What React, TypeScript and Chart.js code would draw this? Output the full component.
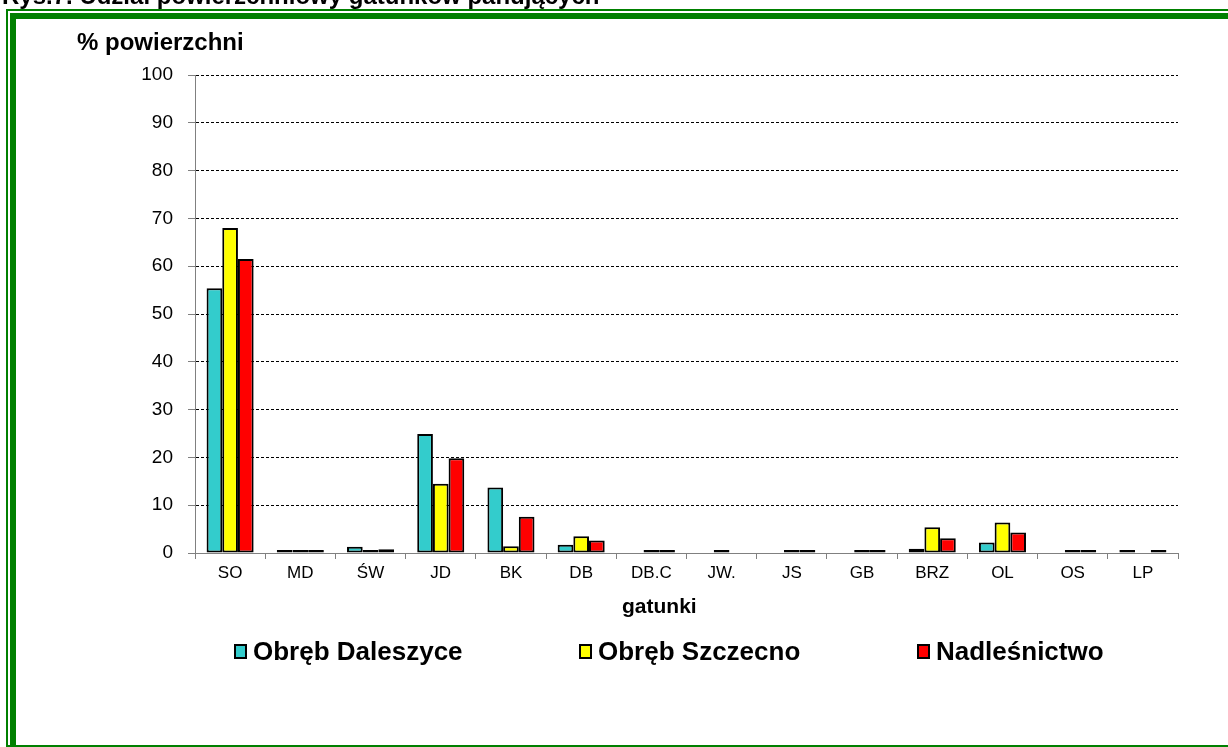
import React, { useEffect, useRef } from 'react';
import { Chart, registerables } from 'chart.js';

Chart.register(...registerables);

const FIG_TITLE = 'Rys.7. Udział powierzchniowy gatunków panujących';
const Y_TITLE = '% powierzchni';
const X_TITLE = 'gatunki';

const categories = ['SO', 'MD', 'ŚW', 'JD', 'BK', 'DB', 'DB.C', 'JW.', 'JS', 'GB', 'BRZ', 'OL', 'OS', 'LP'];

const seriesNames = ['Obręb Daleszyce', 'Obręb Szczecno', 'Nadleśnictwo'];
const seriesColors = ['#33CCCC', '#FFFF00', '#FF0000'];

const daleszyce = [55.4, 0.2, 1.3, 24.9, 13.7, 1.7, null, null, null, null, 0.9, 2.2, null, 0.2];
const szczecno = [68.0, 0.2, 0.3, 14.5, 1.4, 3.5, 0.2, 0.2, 0.2, 0.4, 5.4, 6.4, 0.2, null];
const nadlesnictwo = [61.5, 0.2, 0.8, 19.8, 7.6, 2.6, 0.2, null, 0.2, 0.2, 3.1, 4.3, 0.2, 0.2];

const yTicks = [0, 10, 20, 30, 40, 50, 60, 70, 80, 90, 100];

const FONT = '"Liberation Sans", Arial, Helvetica, sans-serif';
const LEGEND_BOX_X = [234, 579, 917];

const textPlugin = {
  id: 'figureTexts',
  afterDraw(chart: any) {
    const ctx = chart.ctx as CanvasRenderingContext2D;
    ctx.save();
    ctx.fillStyle = '#000';
    ctx.textBaseline = 'alphabetic';
    ctx.textAlign = 'left';
    ctx.font = `bold 24px ${FONT}`;
    ctx.fillText(FIG_TITLE, 2, 4);
    ctx.fillText(Y_TITLE, 77, 50);
    ctx.font = `bold 21px ${FONT}`;
    ctx.fillText(X_TITLE, 622, 613);
    ctx.font = `bold 26px ${FONT}`;
    chart.data.datasets.forEach((ds: any, i: number) => {
      const bx = LEGEND_BOX_X[i];
      ctx.fillStyle = '#000';
      ctx.fillRect(bx, 644, 13, 15);
      ctx.fillStyle = ds.backgroundColor;
      ctx.fillRect(bx + 2, 646, 9, 11);
      ctx.fillStyle = '#000';
      ctx.fillText(ds.label, bx + 19, 660);
    });
    ctx.restore();
  },
};

export default function App() {
  const ref = useRef<HTMLCanvasElement>(null);

  useEffect(() => {
    const values = [daleszyce, szczecno, nadlesnictwo];
    const chart = new Chart(ref.current as HTMLCanvasElement, {
      type: 'bar',
      data: {
        labels: categories,
        datasets: values.map((v, i) => ({
          label: seriesNames[i],
          data: v,
          backgroundColor: seriesColors[i],
          borderColor: '#000',
          borderWidth: 2,
          borderSkipped: false,
          inflateAmount: 0,
          minBarLength: 3,
          categoryPercentage: 0.67,
          barPercentage: 1.0,
        })),
      },
      options: {
        responsive: false,
        animation: false,
        devicePixelRatio: 1,
        layout: { padding: { left: 125, right: 50, top: 75, bottom: 154 } },
        plugins: {
          legend: { display: false },
          tooltip: { enabled: false },
          title: { display: false },
        },
        scales: {
          x: {
            offset: true,
            grid: {
              display: true,
              offset: true,
              drawOnChartArea: false,
              drawTicks: true,
              tickLength: 6,
              color: '#808080',
              tickColor: '#808080',
            },
            border: { display: true, color: '#808080', width: 1 },
            ticks: {
              color: '#000',
              font: { family: FONT, size: 17 },
              padding: 4,
              maxRotation: 0,
              autoSkip: false,
            },
            afterFit: (s: any) => {
              s.height = 40;
            },
          },
          y: {
            min: 0,
            max: 100,
            afterBuildTicks: (s: any) => {
              s.ticks = yTicks.map((v) => ({ value: v }));
            },
            ticks: {
              color: '#000',
              font: { family: FONT, size: 19 },
              padding: 15,
            },
            grid: {
              color: (c: any) => (c.tick && c.tick.value === 0 ? 'rgba(0,0,0,0)' : '#000'),
              tickColor: '#808080',
              tickLength: 7,
              lineWidth: 1,
              tickBorderDash: [],
            },
            border: { display: true, color: '#808080', width: 1, dash: [3, 2] },
            afterFit: (s: any) => {
              s.width = 70;
            },
          },
        },
      },
      plugins: [textPlugin],
    });
    return () => chart.destroy();
  }, []);

  const green = '#008000';
  return (
    <div
      style={{
        position: 'fixed',
        left: 0,
        top: 0,
        width: 1228,
        height: 747,
        background: '#fff',
        overflow: 'hidden',
      }}
    >
      <div style={{ position: 'absolute', left: 6, top: 9, width: 2, height: 738, background: green }} />
      <div style={{ position: 'absolute', left: 6, top: 9, width: 1222, height: 2, background: green }} />
      <div style={{ position: 'absolute', left: 10, top: 13, width: 6, height: 734, background: green }} />
      <div style={{ position: 'absolute', left: 10, top: 13, width: 1218, height: 6, background: green }} />
      <div style={{ position: 'absolute', left: 6, top: 745, width: 1222, height: 2, background: green }} />
      <canvas
        ref={ref}
        width={1228}
        height={747}
        style={{ position: 'absolute', left: 0, top: 0, width: 1228, height: 747 }}
      />
    </div>
  );
}
